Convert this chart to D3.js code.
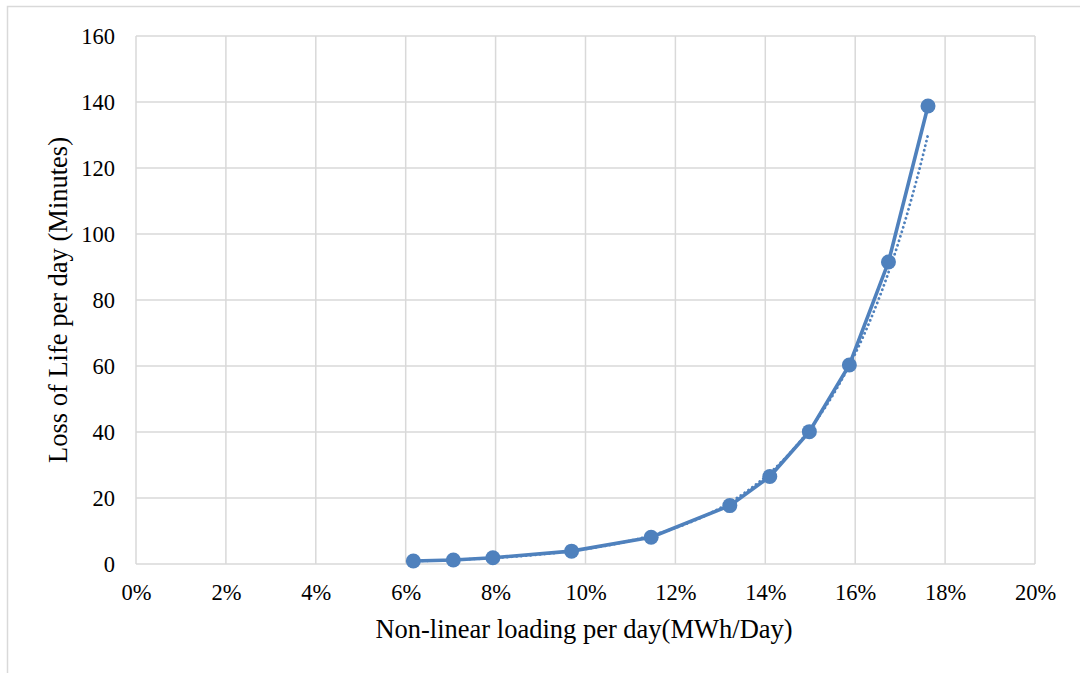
<!DOCTYPE html>
<html><head><meta charset="utf-8">
<script src="https://cdn.jsdelivr.net/npm/d3@7"></script>
<style>body{margin:0;background:#fff}svg{display:block}</style>
</head><body>
<svg id="c" width="1080" height="673"></svg>
<script>
const loadingPct = [0.0617,0.0706,0.0794,0.0969,0.1146,0.1321,0.1410,0.1498,0.1587,0.1674,0.1762];
const lossMinutes = [0.9,1.2,1.9,3.9,8.1,17.7,26.5,40.1,60.3,91.5,138.8];
const xTicks = [0,0.02,0.04,0.06,0.08,0.10,0.12,0.14,0.16,0.18,0.20];
const yTicks = [0,20,40,60,80,100,120,140,160];
const xTitle = "Non-linear loading per day(MWh/Day)";
const yTitle = "Loss of Life per day (Minutes)";

const svg = d3.select("#c");
const font = "'Liberation Serif','Times New Roman',serif";
const blue = "#4F81BD";
const grid = "#D9D9D9";

svg.append("rect").attr("x",7.5).attr("y",6.5).attr("width",1100).attr("height",700)
  .attr("fill","none").attr("stroke",grid).attr("stroke-width",1.5);

const L=136,R=1035,T=36,B=564;
const x = d3.scaleLinear().domain([0,0.2]).range([L,R]);
const y = d3.scaleLinear().domain([0,160]).range([B,T]);

const g = svg.append("g");
g.selectAll(".vg").data(xTicks).join("line")
  .attr("x1",d=>x(d)).attr("x2",d=>x(d)).attr("y1",T).attr("y2",B)
  .attr("stroke",grid).attr("stroke-width",1.5);
g.selectAll(".hg").data(yTicks).join("line")
  .attr("x1",L).attr("x2",R).attr("y1",d=>y(d)).attr("y2",d=>y(d))
  .attr("stroke",grid).attr("stroke-width",1.5);

const xAxis = svg.append("g").attr("transform",`translate(0,${B})`)
  .call(d3.axisBottom(x).tickValues(xTicks).tickFormat(d3.format(".0%")).tickSize(0).tickPadding(20));
xAxis.select(".domain").remove();
xAxis.selectAll("text").attr("font-family",font).attr("font-size",22.5).attr("fill","#000");

const yAxis = svg.append("g").attr("transform",`translate(${L},0)`)
  .call(d3.axisLeft(y).tickValues(yTicks).tickSize(0).tickPadding(21));
yAxis.select(".domain").remove();
yAxis.selectAll("text").attr("font-family",font).attr("font-size",22.5).attr("fill","#000");

// exponential trendline (least squares on ln y), as the spreadsheet trendline does
const n = loadingPct.length;
const lx = loadingPct, ly = lossMinutes.map(Math.log);
const mx = d3.mean(lx), my = d3.mean(ly);
const b = d3.sum(lx.map((v,i)=>(v-mx)*(ly[i]-my)))/d3.sum(lx.map(v=>(v-mx)*(v-mx)));
const a = Math.exp(my - b*mx);
const xs = d3.range(0,101).map(i=>lx[0]+(lx[n-1]-lx[0])*i/100);
svg.append("path").datum(xs)
  .attr("d",d3.line().x(d=>x(d)).y(d=>y(a*Math.exp(b*d))))
  .attr("fill","none").attr("stroke",blue).attr("stroke-width",2.8)
  .attr("stroke-dasharray","0.1 4.6").attr("stroke-linecap","round");

const pts = loadingPct.map((v,i)=>[v,lossMinutes[i]]);
svg.append("path").datum(pts)
  .attr("d",d3.line().x(d=>x(d[0])).y(d=>y(d[1])))
  .attr("fill","none").attr("stroke",blue).attr("stroke-width",3.6);
svg.selectAll(".pt").data(pts).join("circle")
  .attr("cx",d=>x(d[0])).attr("cy",d=>y(d[1])).attr("r",7.5).attr("fill",blue);

svg.append("text").attr("x",584).attr("y",638).attr("text-anchor","middle")
  .attr("font-family",font).attr("font-size",26.5).attr("fill","#000").text(xTitle);
svg.append("text").attr("transform","translate(67,300) rotate(-90)").attr("text-anchor","middle")
  .attr("font-family",font).attr("font-size",26.5).attr("fill","#000").text(yTitle);
</script>
</body></html>
